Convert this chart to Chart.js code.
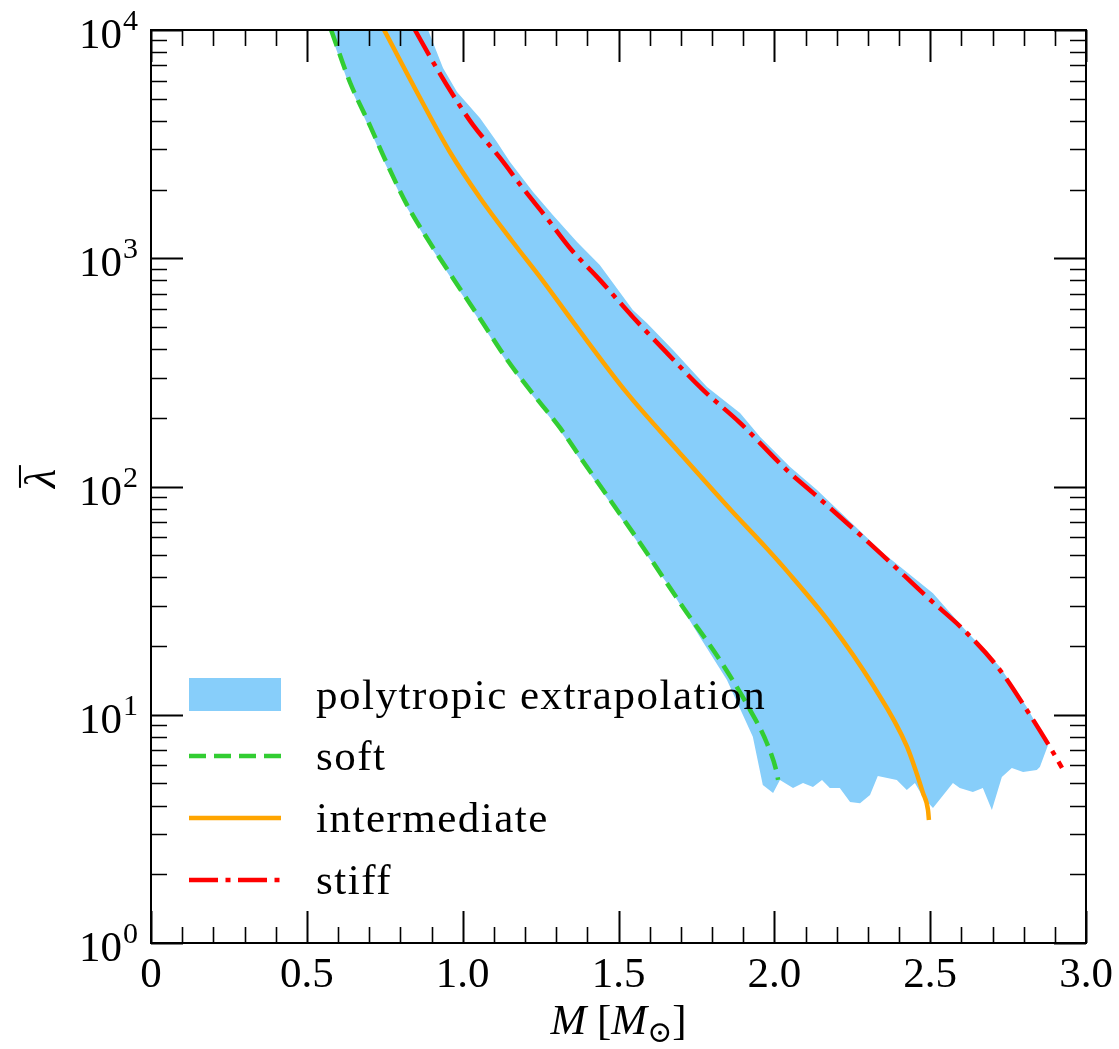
<!DOCTYPE html>
<html>
<head>
<meta charset="utf-8">
<script src="https://cdn.jsdelivr.net/npm/chart.js@4.4.1/dist/chart.umd.min.js"></script>
<style>
  html, body { margin: 0; padding: 0; background: #ffffff; }
  #wrap { width: 1119px; height: 1049px; position: relative; }
</style>
</head>
<body>
<div id="wrap"><canvas id="c"></canvas></div>
<script>
// Tidal deformability (lambda-bar) versus gravitational mass M [M_sun]

// soft EOS
const softMass   = [0.578, 0.638, 0.703, 0.757, 0.821, 0.895, 0.969, 1.065, 1.142, 1.226, 1.312, 1.386, 1.473, 1.578, 1.707, 1.825, 1.922, 1.976, 2.008, 2.012];
const softLambda = [10000, 5920, 3800, 2600, 1718, 1169, 818, 520, 360, 254, 181, 129, 87.3, 54.3, 29.6, 17.4, 10.5, 7.52, 5.56, 5.18];

// intermediate EOS
const intMass   = [0.748, 0.853, 0.959, 1.056, 1.161, 1.258, 1.360, 1.527, 1.697, 1.862, 1.976, 2.040, 2.180, 2.316, 2.425, 2.477, 2.493, 2.496];
const intLambda = [10000, 5350, 2920, 1837, 1178, 794, 513, 257, 140, 78.5, 53.5, 42.7, 25.1, 13.5, 7.28, 4.54, 3.83, 3.46];

// stiff EOS
const stiffMass   = [0.847, 0.905, 0.969, 1.033, 1.120, 1.193, 1.270, 1.344, 1.440, 1.546, 1.655, 1.771, 1.890, 2.040, 2.124, 2.339, 2.490, 2.618, 2.724, 2.810, 2.884, 2.923];
const stiffLambda = [10000, 7240, 5190, 3840, 2750, 2030, 1500, 1109, 804, 553, 385, 265, 190, 118, 93.8, 51.2, 32.8, 22.8, 15.7, 10.5, 7.23, 5.85];

// envelope of the polytropic extrapolations (closed outline: top, upper edge, ragged lower end, lower edge)
const bandMass = [
  0.572, 0.889,
  0.937, 0.982, 1.056, 1.110, 1.152, 1.226, 1.290, 1.367, 1.440, 1.546, 1.591, 1.675, 1.784, 1.890, 1.954, 2.050, 2.137, 2.348, 2.509, 2.605, 2.724, 2.746, 2.810, 2.878,
  2.852, 2.842, 2.798, 2.762, 2.730, 2.698, 2.669, 2.637, 2.595, 2.573, 2.509, 2.477, 2.451, 2.425, 2.393, 2.332, 2.307, 2.275, 2.243, 2.210, 2.178, 2.153, 2.124, 2.092, 2.060, 2.018, 1.996, 1.963,
  1.931, 1.848, 1.761, 1.655, 1.572, 1.467, 1.380, 1.306, 1.220, 1.136, 1.059, 0.963, 0.889, 0.815, 0.751, 0.697, 0.632
];
const bandLambda = [
  10000, 10000,
  6820, 5350, 4110, 3230, 2640, 1950, 1545, 1178, 933, 593, 520, 396, 273, 210, 165, 122, 96.5, 51.2, 34.1, 24.2, 16.2, 14.6, 10.8, 7.36,
  5.90, 5.73, 5.61, 5.85, 5.34, 3.83, 4.78, 4.59, 4.78, 5.02, 3.90, 4.36, 5.02, 4.68, 5.18, 5.39, 4.45, 4.10, 4.15, 4.78, 4.78, 5.18, 4.82, 5.02, 4.78, 5.18, 4.54, 4.92,
  8.0, 14.2, 21.9, 37.8, 54.3, 87.3, 129, 181, 254, 360, 520, 818, 1169, 1718, 2600, 3800, 5920
];

// axis ticks
const xTickValues = [0, 0.5, 1.0, 1.5, 2.0, 2.5, 3.0];
const xTickLabels = ['0', '0.5', '1.0', '1.5', '2.0', '2.5', '3.0'];
const yTickExponents = [0, 1, 2, 3, 4];

const seriesLabels = ['polytropic extrapolation', 'soft', 'intermediate', 'stiff'];

const SERIF = '"Liberation Serif", "Times New Roman", "DejaVu Serif", serif';
const BAND_COLOR = '#87CEFA';
const SOFT_COLOR = '#32CD32';
const INT_COLOR = '#FFA500';
const STIFF_COLOR = '#FF0000';
const SOFT_DASH = [17, 8];
const STIFF_DASH = [29, 7.5, 5, 7.5];

const pts = (xs, ys) => xs.map((x, i) => ({ x: x, y: ys[i] }));

// frame, inward ticks, tick labels, axis titles and legend
const frame = {
  id: 'frame',
  afterDraw(chart) {
    const { ctx, chartArea: a, scales } = chart;
    const xs = scales.x, ys = scales.y;
    ctx.save();
    ctx.strokeStyle = '#000';
    ctx.fillStyle = '#000';

    const MAJOR = 32, MINOR = 16;
    const xTick = (v, len, w) => {
      const px = Math.round(xs.getPixelForValue(v)) + 0.5;
      ctx.lineWidth = w;
      ctx.beginPath();
      ctx.moveTo(px, a.bottom); ctx.lineTo(px, a.bottom - len);
      ctx.moveTo(px, a.top); ctx.lineTo(px, a.top + len);
      ctx.stroke();
    };
    const yTick = (v, len, w) => {
      const py = Math.round(ys.getPixelForValue(v)) + 0.5;
      ctx.lineWidth = w;
      ctx.beginPath();
      ctx.moveTo(a.left, py); ctx.lineTo(a.left + len, py);
      ctx.moveTo(a.right, py); ctx.lineTo(a.right - len, py);
      ctx.stroke();
    };
    for (let i = 1; i < 30; i++) { if (i % 5 !== 0) xTick(i / 10, MINOR, 1.6); }
    xTickValues.forEach(v => xTick(v, MAJOR, 2));
    yTickExponents.forEach(e => {
      if (e < 4) { for (let m = 2; m <= 9; m++) yTick(m * Math.pow(10, e), MINOR, 1.6); }
      yTick(Math.pow(10, e), MAJOR, 2);
    });

    ctx.lineWidth = 2;
    ctx.strokeRect(a.left, a.top, a.right - a.left, a.bottom - a.top);

    // x tick labels
    ctx.font = `43px ${SERIF}`;
    ctx.textAlign = 'center';
    ctx.textBaseline = 'alphabetic';
    xTickValues.forEach((v, i) => ctx.fillText(xTickLabels[i], xs.getPixelForValue(v), a.bottom + 44));

    // y tick labels: 10^n
    yTickExponents.forEach(e => {
      const py = ys.getPixelForValue(Math.pow(10, e));
      const right = a.left - 13;
      ctx.textAlign = 'right';
      ctx.font = `30px ${SERIF}`;
      const sup = String(e);
      const sw = ctx.measureText(sup).width;
      ctx.fillText(sup, right, py);
      ctx.font = `43px ${SERIF}`;
      ctx.fillText('10', right - sw - 1, py + 18);
    });

    // x axis title: M [M_sun]
    {
      const base = 1034;
      const parts = [
        { t: 'M', f: `italic 43px ${SERIF}`, dy: 0 },
        { t: ' [', f: `43px ${SERIF}`, dy: 0 },
        { t: 'M', f: `italic 43px ${SERIF}`, dy: 0 },
        { t: '\u2299', f: `30px ${SERIF}`, dy: 8 },
        { t: ']', f: `43px ${SERIF}`, dy: 0 }
      ];
      let total = 0;
      parts.forEach(p => { ctx.font = p.f; p.w = ctx.measureText(p.t).width; total += p.w; });
      let x = (a.left + a.right) / 2 - total / 2;
      ctx.textAlign = 'left';
      parts.forEach(p => { ctx.font = p.f; ctx.fillText(p.t, x, base + p.dy); x += p.w; });
    }

    // y axis title: lambda with a bar on top
    ctx.save();
    ctx.translate(55, (a.top + a.bottom) / 2 - 8);
    ctx.rotate(-Math.PI / 2);
    ctx.font = `italic 44px ${SERIF}`;
    ctx.textAlign = 'center';
    const lam = ctx.measureText('\u03BB');
    ctx.fillText('\u03BB', 0, 0);
    ctx.font = `44px ${SERIF}`;
    const bar = ctx.measureText('\u00AF');
    const dy = -(lam.actualBoundingBoxAscent + 3) - bar.actualBoundingBoxDescent;
    ctx.fillText('\u00AF', 2, dy);
    ctx.restore();

    // legend
    const lx0 = 189, lx1 = 281, tx = 316;
    const rows = [694.5, 756, 818, 880];
    ctx.fillStyle = BAND_COLOR;
    ctx.fillRect(lx0, 678, lx1 - lx0, 33);
    const sample = (y, color, dash) => {
      ctx.save();
      ctx.strokeStyle = color;
      ctx.lineWidth = 4.5;
      ctx.setLineDash(dash);
      ctx.beginPath(); ctx.moveTo(lx0, y); ctx.lineTo(lx1, y); ctx.stroke();
      ctx.restore();
    };
    sample(rows[1], SOFT_COLOR, SOFT_DASH);
    sample(rows[2], INT_COLOR, []);
    sample(rows[3], STIFF_COLOR, STIFF_DASH);
    ctx.fillStyle = '#000';
    ctx.font = `43px ${SERIF}`;
    ctx.textAlign = 'left';
    if ('letterSpacing' in ctx) ctx.letterSpacing = '1.5px';
    seriesLabels.forEach((s, i) => ctx.fillText(s, tx, rows[i] + 14));
    if ('letterSpacing' in ctx) ctx.letterSpacing = '0px';
    ctx.restore();
  }
};

new Chart(document.getElementById('c'), {
  type: 'line',
  data: {
    datasets: [
      {
        label: seriesLabels[0], data: pts(bandMass, bandLambda),
        backgroundColor: BAND_COLOR, borderColor: 'rgba(0,0,0,0)', borderWidth: 0,
        fill: 'shape', pointRadius: 0, tension: 0, order: 3
      },
      {
        label: seriesLabels[1], data: pts(softMass, softLambda),
        borderColor: SOFT_COLOR, borderWidth: 4.5, borderDash: SOFT_DASH, borderCapStyle: 'butt',
        fill: false, pointRadius: 0, cubicInterpolationMode: 'monotone', order: 2
      },
      {
        label: seriesLabels[2], data: pts(intMass, intLambda),
        borderColor: INT_COLOR, borderWidth: 4.5,
        fill: false, pointRadius: 0, cubicInterpolationMode: 'monotone', order: 1
      },
      {
        label: seriesLabels[3], data: pts(stiffMass, stiffLambda),
        borderColor: STIFF_COLOR, borderWidth: 4.5, borderDash: STIFF_DASH, borderCapStyle: 'butt',
        fill: false, pointRadius: 0, cubicInterpolationMode: 'monotone', order: 0
      }
    ]
  },
  options: {
    responsive: true,
    maintainAspectRatio: false,
    animation: false,
    events: [],
    layout: { padding: { left: 151, right: 33, top: 30, bottom: 106 } },
    plugins: { legend: { display: false }, tooltip: { enabled: false } },
    scales: {
      x: { type: 'linear', min: 0, max: 3, display: false },
      y: { type: 'logarithmic', min: 1, max: 10000, display: false }
    }
  },
  plugins: [frame]
});
</script>
</body>
</html>
